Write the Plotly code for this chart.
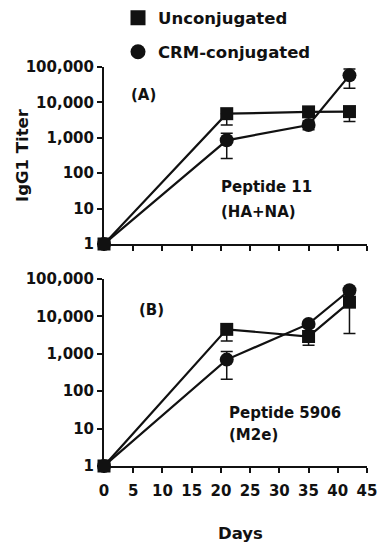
import plotly.graph_objects as go

days = [0, 21, 35, 42]

# Panel A (Peptide 11)
a_unconj = [1, 4800, 5400, 5500]
a_unconj_lo = [1, 2300, 4200, 2900]
a_unconj_hi = [1, 4800, 5400, 5500]
a_crm = [1, 850, 2300, 58000]
a_crm_lo = [1, 260, 1700, 25000]
a_crm_hi = [1, 1350, 3000, 88000]

# Panel B (Peptide 5906)
b_unconj = [1, 4500, 2900, 24000]
b_unconj_lo = [1, 2200, 1700, 3500]
b_unconj_hi = [1, 4500, 2900, 24000]
b_crm = [1, 700, 6300, 50000]
b_crm_lo = [1, 210, 5200, 40000]
b_crm_hi = [1, 1150, 6300, 50000]

y_tickvals = [1, 10, 100, 1000, 10000, 100000]
y_ticktext = ["1", "10", "100", "1,000", "10,000", "100,000"]
x_tickvals = [0, 5, 10, 15, 20, 25, 30, 35, 40, 45]

FONT = "DejaVu Sans"
INK = "#111111"

OFF = 8  # page body offset in the screenshot


def err(y, lo, hi):
    return dict(type="data", symmetric=False,
                array=[h - v for v, h in zip(y, hi)],
                arrayminus=[v - l for v, l in zip(y, lo)],
                color=INK, thickness=1.5, width=6)


fig = go.Figure()


def add(y, lo, hi, symbol, size, xa, ya):
    fig.add_trace(go.Scatter(
        x=days, y=y, mode="lines+markers",
        line=dict(color=INK, width=2.2),
        marker=dict(symbol=symbol, size=size, color=INK),
        error_y=err(y, lo, hi), cliponaxis=False,
        xaxis=xa, yaxis=ya, showlegend=False))


add(a_unconj, a_unconj_lo, a_unconj_hi, "square", 13, "x", "y")
add(a_crm, a_crm_lo, a_crm_hi, "circle", 14, "x", "y")
add(b_unconj, b_unconj_lo, b_unconj_hi, "square", 13, "x2", "y2")
add(b_crm, b_crm_lo, b_crm_hi, "circle", 14, "x2", "y2")

fig.add_trace(go.Scatter(x=[None], y=[None], mode="markers", name="Unconjugated",
                         marker=dict(symbol="square", size=15, color=INK),
                         legend="legend"))
fig.add_trace(go.Scatter(x=[None], y=[None], mode="markers", name="CRM-conjugated",
                         marker=dict(symbol="circle", size=15, color=INK),
                         legend="legend2"))

W, H = 390, 550
X0, X1 = 104, 367
YT_TOP, YT_BOT = 67, 244
YB_TOP, YB_BOT = 279, 466

L = X0 - OFF
T = YT_TOP - OFF
R = W - (X1 - OFF)
B = H - (YB_BOT - OFF)
ph = H - T - B
pw = W - L - R


def py(ypix):
    return (YB_BOT - ypix) / ph


def px(xpix):
    return (xpix - X0) / pw


tfont = dict(family=FONT, size=15, color=INK, weight="bold")
axis_common = dict(showline=True, linecolor=INK, linewidth=2, ticks="outside",
                   ticklen=5, tickwidth=2, tickcolor=INK, showgrid=False,
                   zeroline=False, mirror=False, tickfont=tfont)

lfont = dict(family=FONT, size=16.5, color=INK, weight="bold")
fig.update_layout(
    width=W, height=H, margin=dict(l=L, r=R, t=T, b=B, autoexpand=False),
    paper_bgcolor="white", plot_bgcolor="white",
    font=dict(family=FONT, color=INK),
    xaxis=dict(domain=[0, 1], range=[0, 45], tickvals=x_tickvals,
               showticklabels=False, anchor="y", **axis_common),
    yaxis=dict(domain=[py(YT_BOT), 1], type="log", range=[0, 5],
               tickvals=y_tickvals, ticktext=y_ticktext, anchor="x",
               **axis_common),
    xaxis2=dict(domain=[0, 1], range=[0, 45], tickvals=x_tickvals,
                anchor="y2", ticklabelstandoff=5, **axis_common),
    yaxis2=dict(domain=[0, py(YB_TOP)], type="log", range=[0, 5],
                tickvals=y_tickvals, ticktext=y_ticktext, anchor="x2",
                **axis_common),
    legend=dict(x=px(118), y=py(18), xanchor="left", yanchor="middle",
                font=lfont, bgcolor="rgba(0,0,0,0)"),
    legend2=dict(x=px(118), y=py(52), xanchor="left", yanchor="middle",
                 font=lfont, bgcolor="rgba(0,0,0,0)"),
)

ann_font = dict(family=FONT, size=15, color=INK, weight="bold")
anns = [
    ("(A)", 4.3, 4.2, "x", "y"),
    ("Peptide 11", 19.7, 1.61, "x", "y"),
    ("(HA+NA)", 19.7, 0.9, "x", "y"),
    ("(B)", 5.6, 4.17, "x2", "y2"),
    ("Peptide 5906", 21.0, 1.42, "x2", "y2"),
    ("(M2e)", 21.0, 0.83, "x2", "y2"),
]
for text, x, y, xr, yr in anns:
    fig.add_annotation(text=text, x=x, y=y, xref=xr, yref=yr, showarrow=False,
                       xanchor="left", yanchor="middle", font=ann_font)

fig.add_annotation(text="IgG1 Titer", textangle=-90, x=px(22), y=py(155),
                   xref="paper", yref="paper", showarrow=False, xanchor="center",
                   yanchor="middle", font=lfont)
fig.add_annotation(text="Days", x=px(240), y=py(533),
                   xref="paper", yref="paper", showarrow=False, xanchor="center",
                   yanchor="middle", font=lfont)

fig.write_html("out.html")
